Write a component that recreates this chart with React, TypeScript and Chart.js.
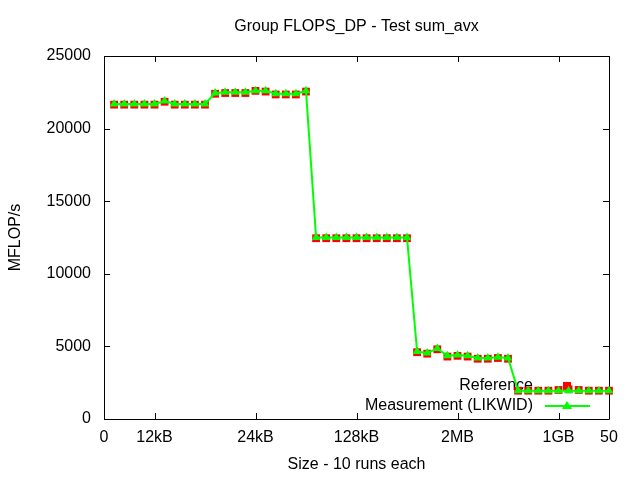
import React, { useEffect, useRef } from "react";
import { Chart, registerables } from "chart.js";

Chart.register(...registerables);

const xValues: number[] = Array.from({ length: 50 }, (_, i) => i + 1);

const measurement: number[] = [
  21700, 21700, 21700, 21700, 21700, 21900, 21700, 21700, 21700, 21700,
  22450, 22500, 22500, 22500, 22600, 22600, 22400, 22400, 22400, 22600,
  12500, 12500, 12500, 12500, 12500, 12500, 12500, 12500, 12500, 12500,
  4650, 4550, 4850, 4350, 4400, 4350, 4200, 4200, 4250, 4200,
  1950, 1950, 1950, 1950, 1950, 1950, 1950, 1950, 1950, 1950,
];

const reference: number[] = [
  21650, 21650, 21650, 21650, 21650, 21850, 21650, 21650, 21650, 21650,
  22400, 22450, 22450, 22450, 22600, 22550, 22350, 22350, 22350, 22550,
  12450, 12450, 12450, 12450, 12450, 12450, 12450, 12450, 12450, 12450,
  4600, 4500, 4800, 4300, 4350, 4300, 4150, 4150, 4200, 4150,
  1950, 1950, 1950, 1950, 2000, 2050, 2000, 1950, 1950, 1950,
];

const xTickValues: number[] = [0, 5, 15, 25, 35, 45, 50];
const xTickLabels: string[] = ["0", "12kB", "24kB", "128kB", "2MB", "1GB", "50"];
const yTickValues: number[] = [0, 5000, 10000, 15000, 20000, 25000];

const FONT = '"Liberation Sans", Arial, sans-serif';
const FS = 16;
const GREEN = "#00ff00";
const RED = "#ff0000";

const framePlugin = {
  id: "frame",
  beforeDatasetsDraw(chart: any) {
    const { ctx, chartArea: a, scales } = chart;
    ctx.save();
    ctx.strokeStyle = "#000";
    ctx.lineWidth = 1;
    ctx.beginPath();
    ctx.rect(Math.round(a.left) + 0.5, Math.round(a.top) + 0.5, Math.round(a.right - a.left), Math.round(a.bottom - a.top));
    ctx.stroke();
    const tl = 6;
    ctx.beginPath();
    for (const v of xTickValues) {
      const x = Math.round(scales.x.getPixelForValue(v)) + 0.5;
      ctx.moveTo(x, a.bottom);
      ctx.lineTo(x, a.bottom - tl);
      ctx.moveTo(x, a.top);
      ctx.lineTo(x, a.top + tl);
    }
    for (const v of yTickValues) {
      const y = Math.round(scales.y.getPixelForValue(v)) + 0.5;
      ctx.moveTo(a.left, y);
      ctx.lineTo(a.left + tl, y);
      ctx.moveTo(a.right, y);
      ctx.lineTo(a.right - tl, y);
    }
    ctx.stroke();

    // titles
    ctx.fillStyle = "#000";
    ctx.font = `${FS}px ${FONT}`;
    ctx.textAlign = "center";
    ctx.textBaseline = "middle";
    const cx = (a.left + a.right) / 2;
    ctx.fillText("Group FLOPS_DP - Test sum_avx", cx, 27);
    ctx.fillText("Size - 10 runs each", cx, 465);
    ctx.save();
    ctx.translate(16, (a.top + a.bottom) / 2);
    ctx.rotate(-Math.PI / 2);
    ctx.fillText("MFLOP/s", 0, 0);
    ctx.restore();

    // legend
    ctx.textAlign = "right";
    ctx.fillText("Reference", 533, 386);
    ctx.fillText("Measurement (LIKWID)", 533, 406);
    ctx.fillStyle = RED;
    ctx.fillRect(563, 382, 8, 8);
    ctx.strokeStyle = GREEN;
    ctx.lineWidth = 2;
    ctx.beginPath();
    ctx.moveTo(545, 406);
    ctx.lineTo(590, 406);
    ctx.stroke();
    ctx.fillStyle = GREEN;
    ctx.beginPath();
    ctx.moveTo(567, 401);
    ctx.lineTo(572, 409);
    ctx.lineTo(562, 409);
    ctx.closePath();
    ctx.fill();
    ctx.restore();
  },
};

export default function App() {
  const ref = useRef<HTMLCanvasElement | null>(null);
  useEffect(() => {
    if (!ref.current) return;
    const chart = new Chart(ref.current, {
      type: "scatter",
      data: {
        datasets: [
          {
            label: "Reference",
            data: xValues.map((x, i) => ({ x, y: reference[i] })),
            showLine: false,
            pointStyle: "rect",
            pointRadius: 5.5,
            pointBackgroundColor: RED,
            pointBorderWidth: 0,
            borderColor: RED,
            clip: false,
            order: 2,
          },
          {
            label: "Measurement (LIKWID)",
            data: xValues.map((x, i) => ({ x, y: measurement[i] })),
            showLine: true,
            borderColor: GREEN,
            borderWidth: 2,
            pointStyle: "triangle",
            pointRadius: 5,
            pointBackgroundColor: GREEN,
            pointBorderColor: GREEN,
            pointBorderWidth: 0,
            clip: false,
            order: 1,
          },
        ],
      },
      options: {
        animation: false,
        responsive: false,
        layout: { padding: { top: 56, right: 31, left: 0, bottom: 0 } },
        plugins: { legend: { display: false }, title: { display: false }, tooltip: { enabled: false } },
        scales: {
          x: {
            type: "linear",
            min: 0,
            max: 50,
            grid: { display: false, drawTicks: false },
            border: { display: false },
            afterBuildTicks: (s: any) => {
              s.ticks = xTickValues.map((v) => ({ value: v }));
            },
            afterFit: (s: any) => {
              s.height = 61;
            },
            ticks: {
              autoSkip: false,
              maxRotation: 0,
              padding: 9,
              color: "#000",
              font: { family: FONT, size: FS },
              callback: (v: any) => {
                const i = xTickValues.indexOf(Number(v));
                return i >= 0 ? xTickLabels[i] : "";
              },
            },
          },
          y: {
            type: "linear",
            min: 0,
            max: 25000,
            grid: { display: false, drawTicks: false },
            border: { display: false },
            afterBuildTicks: (s: any) => {
              s.ticks = yTickValues.map((v) => ({ value: v }));
            },
            afterFit: (s: any) => {
              s.width = 104;
            },
            ticks: {
              padding: 13,
              color: "#000",
              font: { family: FONT, size: FS },
              callback: (v: any) => String(v),
            },
          },
        },
      },
      plugins: [framePlugin],
    });
    return () => chart.destroy();
  }, []);
  return (
    <div style={{ position: "absolute", left: 0, top: 0, width: 640, height: 480, background: "#fff" }}>
      <canvas ref={ref} width={640} height={480} style={{ width: 640, height: 480 }} />
    </div>
  );
}
